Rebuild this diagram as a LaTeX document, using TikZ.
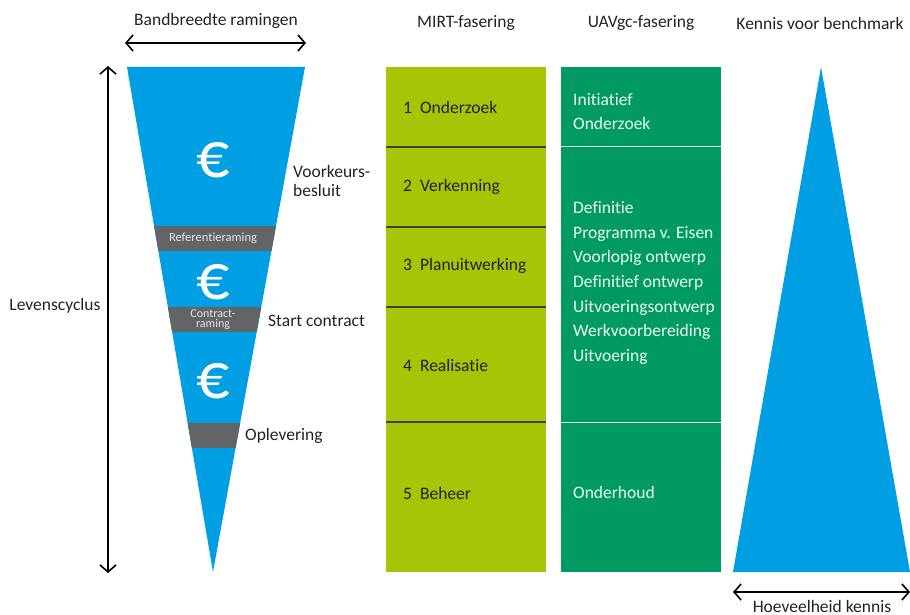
\documentclass[tikz,border=0pt]{standalone}
\usepackage{fontspec}
\setmainfont[Ligatures=NoCommon]{Carlito}
\usetikzlibrary{arrows.meta}
\definecolor{funnelblue}{HTML}{009FE3}
\definecolor{bandgrey}{HTML}{636466}
\definecolor{mirtlime}{HTML}{A7C407}
\definecolor{uavgreen}{HTML}{009A62}
\definecolor{darktext}{HTML}{222222}
\tikzset{
  lbl/.style={font=\fontsize{17.5}{20}\selectfont, text=darktext, inner sep=0pt},
  hdr/.style={lbl, anchor=center},
  wlbl/.style={font=\fontsize{17.5}{20}\selectfont, text=white!92!green, inner sep=0pt, anchor=west},
  small/.style={font=\fontsize{12.5}{11}\selectfont, text=white!90!black, inner sep=0pt, align=center},
  euro/.style={font=\fontsize{66}{66}\selectfont, text=white, inner sep=0pt, text height=40pt, text depth=0pt},
  dimarrow/.style={line width=1.6pt, {Straight Barb[length=7pt,width=16pt]}-{Straight Barb[length=7pt,width=16pt]}},
  cellline/.style={line width=1.2pt, draw=black!75},
  wline/.style={line width=1pt, draw=white!85!green},
}
\begin{document}
\begin{tikzpicture}[x=1pt,y=-1pt]
\useasboundingbox (0,0) rectangle (910,615);
% funnel
\coordinate (fTL) at (127,67);
\coordinate (fTR) at (305,67);
\coordinate (fB) at (213,572);
\fill[funnelblue] (fTL) -- (fTR) -- (fB) -- cycle;
\begin{scope}
  \clip (fTL) -- (fTR) -- (fB) -- cycle;
  \fill[bandgrey] (100,226) rectangle (320,251);
  \fill[bandgrey] (100,307) rectangle (320,332);
  \fill[bandgrey] (100,423) rectangle (320,448);
\end{scope}
\node[small] (ref) at (213,238.5) {Referentieraming};
\node[small, font=\fontsize{12}{10.5}\selectfont] (con) at (213,319.5) {Contract-\\raming};
\node[euro] (e1) at (213,157) {€};
\node[euro] (e2) at (213,279) {€};
\node[euro] (e3) at (213,378) {€};
\node[lbl, anchor=west, align=left, font=\fontsize{17.5}{18.5}\selectfont] (vkb) at (293,181) {Voorkeurs-\\besluit};
\node[lbl, anchor=west] (sc) at (268,321) {Start contract};
\node[lbl, anchor=west] (opl) at (245,436) {Oplevering};
% top arrow
\node[hdr] (bandtxt) at (216,21) {Bandbreedte ramingen};
\coordinate (baL) at (125,43);
\coordinate (baR) at (306,43);
\draw[dimarrow] (baL) -- (baR);
% left arrow
\coordinate (laT) at (108,66);
\coordinate (laB) at (108,573);
\draw[dimarrow] (laT) -- (laB);
\node[hdr] (lev) at (55,306) {Levenscyclus};
% MIRT column
\node[hdr] (mirth) at (466,23) {MIRT-fasering};
\fill[mirtlime] (386,67) rectangle (546,572);
\draw[cellline] (386,147) -- (546,147);
\draw[cellline] (386,227) -- (546,227);
\draw[cellline] (386,307) -- (546,307);
\draw[cellline] (386,422) -- (546,422);
\node[lbl, anchor=west] (m1) at (403,107) {1\hspace{8pt}Onderzoek};
\node[lbl, anchor=west] (m2) at (403,187) {2\hspace{8pt}Verkenning};
\node[lbl, anchor=west] (m3) at (403,266) {3\hspace{8pt}Planuitwerking};
\node[lbl, anchor=west] (m4) at (403,365) {4\hspace{8pt}Realisatie};
\node[lbl, anchor=west] (m5) at (403,493) {5\hspace{8pt}Beheer};
% UAVgc column
\node[hdr] (uavh) at (641,23) {UAVgc-fasering};
\fill[uavgreen] (561,67) rectangle (721,572);
\draw[wline] (561,147) -- (721,147);
\draw[wline] (561,422) -- (721,422);
\node[wlbl, align=left, font=\fontsize{17.5}{24.8}\selectfont] (u1) at (573,111.5) {Initiatief\\Onderzoek};
\node[wlbl, align=left, font=\fontsize{17.5}{24.7}\selectfont] (u2) at (573,283) {Definitie\\Programma v. Eisen\\Voorlopig ontwerp\\Definitief ontwerp\\Uitvoeringsontwerp\\Werkvoorbereiding\\Uitvoering};
\node[wlbl] (u3) at (573,492) {Onderhoud};
% knowledge triangle
\node[hdr] (kh) at (820,23) {Kennis voor benchmark};
\coordinate (kT) at (821,67);
\coordinate (kL) at (733,572);
\coordinate (kR) at (910,572);
\fill[funnelblue] (kT) -- (kR) -- (kL) -- cycle;
\coordinate (kaL) at (733,592);
\coordinate (kaR) at (910,592);
\draw[dimarrow] (kaL) -- (kaR);
\node[hdr] (hk) at (822,606) {Hoeveelheid kennis};
\end{tikzpicture}
\end{document}
